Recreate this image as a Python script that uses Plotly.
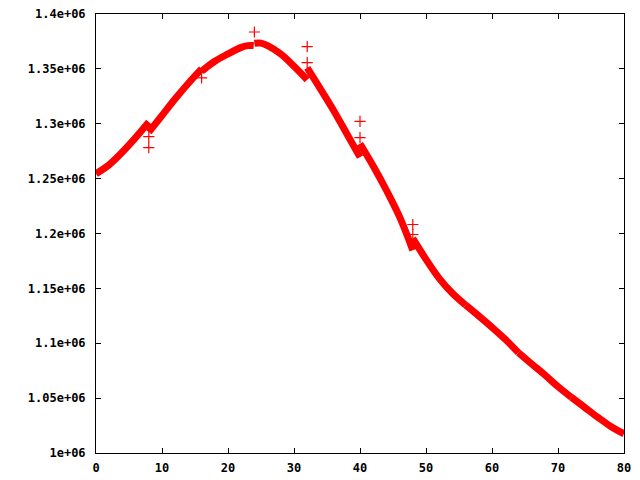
import plotly.graph_objects as go

# Curve, one list pair per 8-unit segment
SEG_X = [
    [0, 2, 4, 6, 8],
    [8, 10, 12, 14, 16],
    [16, 18, 20, 22, 23, 23.9],
    [24, 25, 26, 28, 30, 32],
    [32, 34, 36, 38, 40],
    [40, 42, 44, 46, 48],
    [48, 50, 52, 54, 56],
    [56, 58, 60, 62, 64],
    [64, 66, 68, 70, 72],
    [72, 74, 76, 78, 80],
]
SEG_Y = [
    [1254500, 1262700, 1274200, 1287300, 1301500],
    [1292400, 1307500, 1322700, 1336900, 1350000],
    [1347800, 1356900, 1363600, 1369600, 1371200, 1371200],
    [1373300, 1373500, 1371200, 1363600, 1352400, 1340000],
    [1350900, 1331800, 1312100, 1290900, 1269600],
    [1281800, 1261500, 1239400, 1215100, 1184800],
    [1195500, 1176400, 1159100, 1145500, 1134800],
    [1134800, 1124800, 1114500, 1103600, 1091500],
    [1091500, 1081200, 1071200, 1060500, 1050900],
    [1050900, 1041800, 1032700, 1024200, 1017500],
]

# Stray points at segment starts
OUT_X = [8, 8, 16, 24, 32, 32, 40, 40, 48, 48]
OUT_Y = [1288200, 1278200, 1341800, 1383600, 1370300, 1355700,
         1302100, 1287300, 1208200, 1199100]

X_TICKS = [0, 10, 20, 30, 40, 50, 60, 70, 80]
Y_TICKS = [1000000, 1050000, 1100000, 1150000, 1200000,
           1250000, 1300000, 1350000, 1400000]
Y_LABELS = ["1e+06", "1.05e+06", "1.1e+06", "1.15e+06", "1.2e+06",
            "1.25e+06", "1.3e+06", "1.35e+06", "1.4e+06"]

RED = "#ff0000"

fig = go.Figure()
for xs, ys in zip(SEG_X, SEG_Y):
    fig.add_trace(go.Scatter(
        x=xs, y=ys, mode="lines",
        line=dict(color=RED, width=7, shape="spline"),
        showlegend=False, hoverinfo="skip",
    ))

fig.add_trace(go.Scatter(
    x=OUT_X, y=OUT_Y, mode="markers",
    marker=dict(symbol="cross-thin", size=8, line=dict(color=RED, width=1.2)),
    showlegend=False,
))

axis_font = dict(family="DejaVu Sans Mono", size=12, color="black", weight="bold")

fig.update_layout(
    template="none",
    width=640, height=480,
    paper_bgcolor="white", plot_bgcolor="white",
    margin=dict(l=96, r=16, t=14, b=27, pad=0),
    font=axis_font,
)
fig.update_xaxes(
    range=[0, 80], tickvals=X_TICKS,
    showgrid=False, zeroline=False, automargin=False,
    showline=True, linecolor="black", linewidth=1, mirror="ticks",
    ticks="inside", ticklen=5, tickcolor="black", tickwidth=1,
    tickfont=axis_font, ticklabelstandoff=4,
)
fig.update_yaxes(
    range=[1000000, 1400000], tickvals=Y_TICKS, ticktext=Y_LABELS,
    showgrid=False, zeroline=False, automargin=False,
    showline=True, linecolor="black", linewidth=1, mirror="ticks",
    ticks="inside", ticklen=5, tickcolor="black", tickwidth=1,
    tickfont=axis_font, ticklabelstandoff=7,
)

fig.write_html("out.html", config={"displayModeBar": False},
               post_script="document.body.style.margin='0';")
